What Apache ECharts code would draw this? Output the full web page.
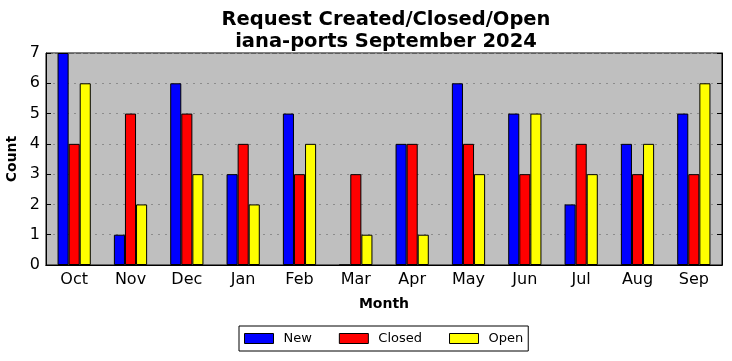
<!DOCTYPE html>
<html><head><meta charset="utf-8">
<script src="https://cdn.jsdelivr.net/npm/echarts@6/dist/echarts.min.js"></script>
<style>html,body{margin:0;padding:0;background:#fff}#c{width:732px;height:361px}</style>
</head><body><div id="c"></div>
<script>
const months = ['Oct','Nov','Dec','Jan','Feb','Mar','Apr','May','Jun','Jul','Aug','Sep'];
const newVals = [7,1,6,3,5,0,4,6,5,2,4,5];
const closedVals = [4,5,5,4,3,3,4,4,3,4,3,3];
const openVals = [6,2,3,2,4,1,1,3,5,3,4,6];
const yTicks = [0,1,2,3,4,5,6,7];

const chart = echarts.init(document.getElementById('c'), null, {renderer:'canvas'});
const font = 'DejaVu Sans';
function bar(name, data, color){
  return {name, type:'bar', data, barGap:'0%', barCategoryGap:'41%',
    itemStyle:{color, borderColor:'#000', borderWidth:1}, emphasis:{disabled:true}, animation:false};
}
chart.setOption({
  animation:false,
  textStyle:{fontFamily:font},
  title:{text:'Request Created/Closed/Open\niana-ports September 2024', left:381, top:4, textAlign:'center',
    textStyle:{fontFamily:font, fontSize:19.5, fontWeight:'bold', color:'#000', lineHeight:22}},
  grid:{left:46, right:10, top:53, bottom:96, outerBoundsMode:'none', containLabel:false,
    backgroundColor:'#bfbfbf', show:true, borderColor:'#000', borderWidth:1},
  legend:{top:326, left:239, itemWidth:29, itemHeight:10, itemGap:27, padding:[6,5,6,5], icon:'rect',
    borderColor:'#000', borderWidth:1, borderRadius:0,
    itemStyle:{borderColor:'#000', borderWidth:1},
    textStyle:{fontFamily:font, fontSize:13, color:'#000', padding:[0,0,0,5]},
    data:['New','Closed','Open']},
  xAxis:[{type:'category', data:months, name:'Month', nameLocation:'middle', nameGap:32,
    nameTextStyle:{fontFamily:font, fontSize:14, fontWeight:'bold', color:'#000'},
    axisLine:{lineStyle:{color:'#000'}}, axisTick:{inside:true, alignWithLabel:true, length:5, lineStyle:{color:'#000'}},
    axisLabel:{fontFamily:font, fontSize:16, color:'#000', margin:7}, splitLine:{show:false}},
   {type:'category', data:months, position:'top', axisLine:{lineStyle:{color:'#000'}},
    axisTick:{inside:true, alignWithLabel:true, length:5, lineStyle:{color:'#000'}}, axisLabel:{show:false}}],
  yAxis:[{type:'value', min:0, max:7, interval:1, name:'Count', nameLocation:'middle', nameGap:19,
    nameTextStyle:{fontFamily:font, fontSize:14, fontWeight:'bold', color:'#000'},
    axisLine:{show:true, lineStyle:{color:'#000'}}, axisTick:{show:true, inside:true, length:5, lineStyle:{color:'#000'}},
    axisLabel:{fontFamily:font, fontSize:16, color:'#000', margin:6, formatter:v=>yTicks.includes(v)?String(v):''},
    splitLine:{show:true, lineStyle:{color:'#8c8c8c', type:[2,5], width:1}}},
   {type:'value', min:0, max:7, interval:1, position:'right',
    axisLine:{show:true, lineStyle:{color:'#000'}}, axisTick:{show:true, inside:true, length:5, lineStyle:{color:'#000'}},
    axisLabel:{show:false}, splitLine:{show:false}}],
  series:[bar('New', newVals, '#0000ff'), bar('Closed', closedVals, '#ff0000'), bar('Open', openVals, '#ffff00')]
});
</script></body></html>
